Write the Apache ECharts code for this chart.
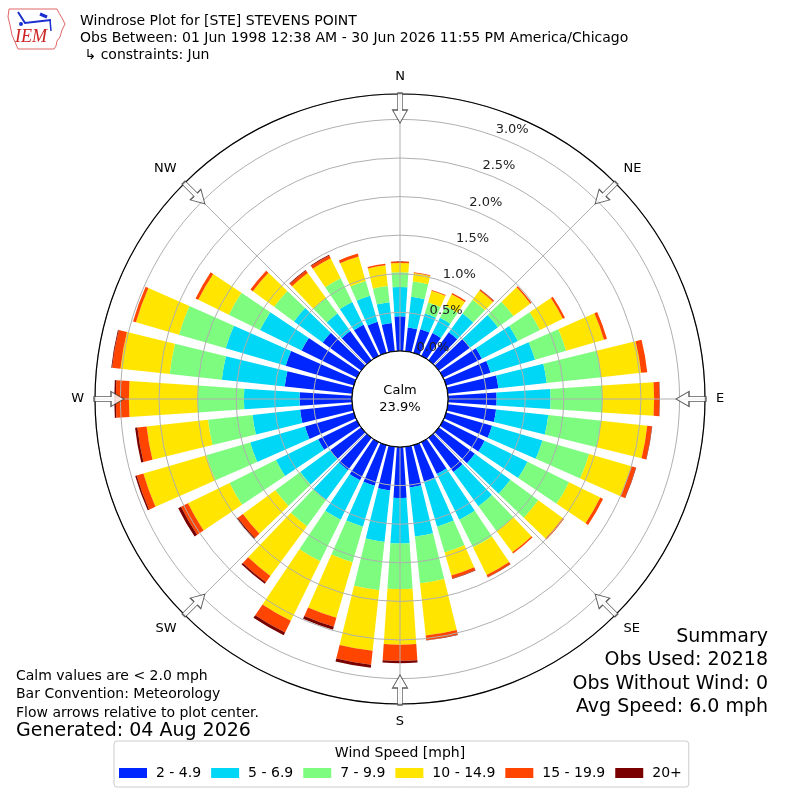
<!DOCTYPE html>
<html>
<head>
<meta charset="utf-8">
<title>Windrose STE</title>
<style>
html,body { margin:0; padding:0; background:#fff; }
#rose { width:800px; height:800px; }
</style>
<script src="https://cdn.jsdelivr.net/npm/echarts@6/dist/echarts.min.js"></script>
</head>
<body>
<div id="rose"></div>
<script type="text/javascript">
// direction bins, 10 degrees wide, meteorological convention (from N clockwise)
var dirBins = ['0','10','20','30','40','50','60','70','80','90','100','110',
               '120','130','140','150','160','170','180','190','200','210','220','230',
               '240','250','260','270','280','290','300','310','320','330','340','350'];
var compassLabels = ['N', 'NE', 'E', 'SE', 'S', 'SW', 'W', 'NW'];
var speedBins = ['2 - 4.9', '5 - 6.9', '7 - 9.9', '10 - 14.9', '15 - 19.9', '20+'];
var speedColors = ['#0026ff', '#00d6f5', '#7dfc7f', '#ffe500', '#ff4500', '#7a0000'];

// frequency [%] per direction bin, one array per speed class
var s2 = [0.45,0.31,0.32,0.33,0.45,0.50,0.56,0.60,0.66,0.63,0.63,0.62,
          0.60,0.58,0.55,0.46,0.49,0.53,0.66,0.57,0.55,0.55,0.52,0.50,
          0.56,0.66,0.68,0.68,0.88,0.92,0.80,0.62,0.47,0.45,0.42,0.37];
var s5 = [0.38,0.40,0.21,0.22,0.30,0.45,0.52,0.60,0.63,0.70,0.68,0.68,
          0.62,0.57,0.55,0.66,0.61,0.64,0.59,0.67,0.55,0.57,0.48,0.48,
          0.61,0.74,0.62,0.72,0.82,0.81,0.60,0.46,0.28,0.33,0.35,0.27];
var s7 = [0.19,0.20,0.15,0.17,0.22,0.25,0.32,0.42,0.71,0.67,0.69,0.63,
          0.60,0.45,0.40,0.40,0.35,0.61,0.59,0.63,0.48,0.60,0.42,0.40,
          0.67,0.59,0.58,0.60,0.68,0.63,0.45,0.32,0.25,0.34,0.20,0.21];
var s10 = [0.12,0.11,0.16,0.17,0.15,0.27,0.33,0.51,0.52,0.67,0.60,0.57,
           0.45,0.39,0.34,0.40,0.31,0.68,0.72,0.79,0.75,0.86,0.80,0.52,
           0.60,0.85,0.80,0.89,0.64,0.58,0.44,0.34,0.40,0.29,0.33,0.27];
var s15 = [0.02,0.01,0.01,0.02,0.015,0.02,0.03,0.04,0.08,0.07,0.06,0.06,
           0.04,0.02,0.02,0.03,0.04,0.06,0.21,0.18,0.12,0.17,0.10,0.08,
           0.10,0.09,0.12,0.17,0.11,0.04,0.04,0.04,0.04,0.04,0.04,0.02];
var s20 = [0,0,0,0,0.005,0,0,0,0,0.005,0.005,0.005,
           0,0,0,0.005,0.005,0.005,0.03,0.04,0.04,0.04,0.025,0.02,
           0.04,0.02,0.03,0.02,0.01,0,0,0,0.01,0.01,0,0];
var speedData = [s2, s5, s7, s10, s15, s20];

var calmPct = '23.9%';
var summaryLines = ['Summary', 'Obs Used: 20218', 'Obs Without Wind: 0', 'Avg Speed: 6.0 mph'];

// geometry of the rose
var CX = 400, CY = 399;
var R_IN = 48, R_OUT = 305;
var PX_PER_PCT = 77.2;
var RMAX = (R_OUT - R_IN) / PX_PER_PCT;
var ARROW_R = (291 - R_IN) / PX_PER_PCT;
var FONT = 'DejaVu Sans';

var myChart = echarts.init(document.getElementById('rose'), null, {renderer: 'canvas'});

var series = [];
for (var i = 0; i < speedBins.length; i++) {
	series.push({
		name: speedBins[i],
		type: 'bar',
		coordinateSystem: 'polar',
		polarIndex: 0,
		stack: 'wind',
		barCategoryGap: '24%',
		itemStyle: { color: speedColors[i] },
		emphasis: { disabled: true },
		z: 2,
		data: speedData[i]
	});
}

// direction arrows around the rim
series.push({
	type: 'scatter',
	coordinateSystem: 'polar',
	polarIndex: 1,
	symbol: 'path://M5.5,0 L10.5,0 L10.5,17 L16,17 L8,30 L0,17 L5.5,17 Z',
	symbolSize: [15, 30],
	symbolRotate: function (val) { return -val[1]; },
	itemStyle: { color: '#fff', borderColor: '#333', borderWidth: 1 },
	silent: true,
	z: 8,
	data: compassLabels.map(function (c, k) { return [ARROW_R, k * 45]; })
});

var graphics = [
	{ type: 'circle', shape: { cx: CX, cy: CY, r: R_IN }, style: { fill: '#fff', stroke: '#000', lineWidth: 1 }, z: 100 },
	{ type: 'text', x: CX, y: CY, z: 101,
	  style: { text: 'Calm\n' + calmPct, align: 'center', verticalAlign: 'middle', fontSize: 13, lineHeight: 17, fontFamily: FONT, fill: '#000' } },
	// IEM logo
	{ type: 'polygon', z: 50,
	  shape: { points: [[9,9],[57,9],[59,13],[62,18],[65,24],[62,30],[60,37],[57,41],[56,46],[54,49],[18,49],[15,42],[12,35],[10,25],[8,17]] },
	  style: { fill: '#fff', stroke: '#e06666', lineWidth: 1 } },
	{ type: 'polyline', z: 51, shape: { points: [[18,12],[25,23],[51,20]] }, style: { stroke: '#1a2fd0', lineWidth: 2, fill: null } },
	{ type: 'polyline', z: 51, shape: { points: [[40,14],[47,17]] }, style: { stroke: '#1a2fd0', lineWidth: 3, fill: null } },
	{ type: 'polyline', z: 51, shape: { points: [[50,20],[51,31]] }, style: { stroke: '#1a2fd0', lineWidth: 1.5, fill: null } },
	{ type: 'circle', z: 51, shape: { cx: 21, cy: 24, r: 2 }, style: { fill: '#1a2fd0' } },
	{ type: 'text', x: 15, y: 46, z: 52,
	  style: { text: 'IEM', fontSize: 18, fontStyle: 'italic', fontFamily: 'Liberation Serif', fill: '#cc2222', verticalAlign: 'bottom' } }
];
// summary block, right aligned
for (var j = 0; j < summaryLines.length; j++) {
	graphics.push({ type: 'text', x: 768, y: 637 + j * 23.4, z: 60,
		style: { text: summaryLines[j], align: 'right', verticalAlign: 'middle', fontSize: 19, fontFamily: FONT, fill: '#000' } });
}

var option = {
	animation: false,
	backgroundColor: '#fff',
	textStyle: { fontFamily: FONT },
	title: [{
		text: 'Windrose Plot for [STE] STEVENS POINT\nObs Between: 01 Jun 1998 12:38 AM - 30 Jun 2026 11:55 PM America/Chicago\n \u21b3 constraints: Jun',
		left: 75, top: 8,
		textStyle: { fontSize: 14, fontWeight: 'normal', color: '#000', lineHeight: 17, fontFamily: FONT }
	}, {
		text: 'Calm values are < 2.0 mph\nBar Convention: Meteorology\nFlow arrows relative to plot center.',
		left: 11, top: 662,
		textStyle: { fontSize: 14, fontWeight: 'normal', color: '#000', lineHeight: 18.5, fontFamily: FONT }
	}, {
		text: 'Generated: 04 Aug 2026',
		left: 11, top: 717,
		textStyle: { fontSize: 19, fontWeight: 'normal', color: '#000', fontFamily: FONT }
	}, {
		text: 'Wind Speed [mph]',
		left: 'center', top: 741,
		textStyle: { fontSize: 14, fontWeight: 'normal', color: '#000', fontFamily: FONT }
	}],
	legend: {
		data: speedBins,
		left: 114, top: 741,
		padding: [25, 7, 7, 5],
		borderColor: '#cccccc', borderWidth: 1, borderRadius: 3,
		itemWidth: 28, itemHeight: 10, itemGap: 10,
		icon: 'rect',
		selectedMode: false,
		textStyle: { fontSize: 14, color: '#000', fontFamily: FONT, padding: [0, 0, 0, 4] }
	},
	polar: [
		{ center: [CX, CY], radius: [R_IN, R_OUT] },
		{ center: [CX, CY], radius: [R_IN, R_OUT] },
		{ center: [CX, CY], radius: [R_IN, R_OUT] }
	],
	angleAxis: [{
		polarIndex: 0,
		type: 'category',
		data: dirBins,
		startAngle: 95,
		clockwise: true,
		boundaryGap: true,
		axisLine: { show: false }, axisTick: { show: false },
		axisLabel: { show: false }, splitLine: { show: false }
	}, {
		polarIndex: 1,
		type: 'value',
		min: 0, max: 360, interval: 45,
		startAngle: 90,
		clockwise: true,
		z: 6,
		axisLine: { show: true, lineStyle: { color: '#000', width: 1.2 } },
		axisTick: { show: false },
		axisLabel: {
			show: true, margin: 11, fontSize: 13, color: '#000', fontFamily: FONT,
			formatter: function (v) { return v < 360 ? compassLabels[Math.round(v / 45)] : ''; }
		},
		splitLine: { show: true, lineStyle: { color: '#b0b0b0', width: 1 } }
	}, {
		polarIndex: 2,
		type: 'value',
		min: 0, max: 360,
		startAngle: 70,
		clockwise: true,
		axisLine: { show: false }, axisTick: { show: false },
		axisLabel: { show: false }, splitLine: { show: false }
	}],
	radiusAxis: [{
		polarIndex: 0,
		type: 'value', min: 0, max: RMAX,
		axisLine: { show: false }, axisTick: { show: false },
		axisLabel: { show: false }, splitLine: { show: false }
	}, {
		polarIndex: 1,
		type: 'value', min: 0, max: RMAX, interval: 0.5,
		z: 5,
		axisLine: { show: false }, axisTick: { show: false },
		axisLabel: { show: false },
		splitLine: { show: true, lineStyle: { color: '#b0b0b0', width: 1 } }
	}, {
		polarIndex: 2,
		type: 'value', min: 0, max: RMAX, interval: 0.5,
		z: 7,
		axisLine: { show: false }, axisTick: { show: false },
		splitLine: { show: false },
		axisLabel: {
			show: true, margin: 0, fontSize: 13, color: '#222', fontFamily: FONT,
			align: 'left', verticalAlign: 'bottom',
			formatter: function (v) { return v <= 3.0001 ? v.toFixed(1) + '%' : ''; }
		}
	}],
	graphic: graphics,
	series: series
};

myChart.setOption(option);
</script>
</body>
</html>
